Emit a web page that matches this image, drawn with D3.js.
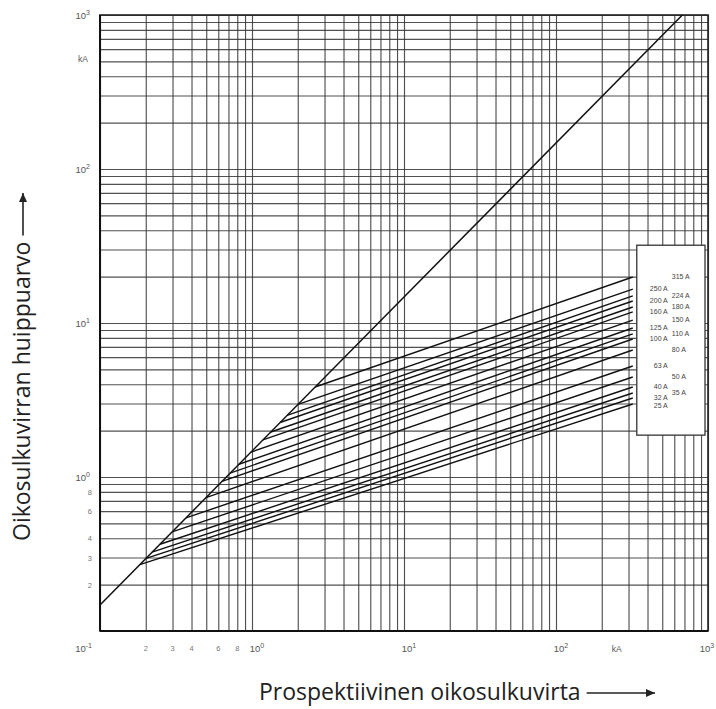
<!DOCTYPE html>
<html><head><meta charset="utf-8">
<script src="https://cdn.jsdelivr.net/npm/d3@7"></script>
<style>body{margin:0;background:#fff}svg{display:block}</style>
</head><body>
<svg id="c" width="716" height="709"></svg>
<script>
// ---- data (kA) ----
const ratings      = ["25 A","32 A","35 A","40 A","50 A","63 A","80 A","100 A","110 A","125 A","150 A","160 A","180 A","200 A","224 A","250 A","315 A"];
const labelSide    = ["L","L","R","L","R","L","R","L","R","L","R","L","R","L","R","L","R"];
const kneeCurrent  = [0.183,0.201,0.220,0.248,0.298,0.368,0.498,0.635,0.717,0.821,0.984,1.18,1.33,1.53,1.70,2.01,2.60];
const kneePeak     = [0.270,0.296,0.325,0.366,0.440,0.543,0.735,0.937,1.06,1.21,1.45,1.74,1.96,2.26,2.51,2.96,3.84];
const endCurrent   = 320;
const endPeak      = [2.98,3.26,3.51,3.84,4.46,5.26,6.68,7.87,8.49,9.28,10.45,11.8,12.7,13.9,15.0,16.6,19.9];
const diagCurrent  = [0.1, 678];
const diagPeak     = [0.1475, 1000];
const decades      = [0.1, 1, 10, 100, 1000];
const decadeExp    = ["-1","0","1","2","3"];
const xMinorVals   = [0.2,0.3,0.4,0.6,0.8];
const xMinorText   = ["2","3","4","6","8"];
const yMinorVals   = [0.8,0.6,0.4,0.3,0.2];
const yMinorText   = ["8","6","4","3","2"];
const xTitle = "Prospektiivinen oikosulkuvirta";
const yTitle = "Oikosulkuvirran huippuarvo";

const svg = d3.select("#c");
const L=100, R=708, T=15, B=631;
const x = d3.scaleLog().domain([0.1,1000]).range([L,R]);
const y = d3.scaleLog().domain([0.1,1000]).range([B,T]);

// grid via axes
const gridX = svg.append("g").attr("transform",`translate(0,${B})`)
  .call(d3.axisBottom(x).tickValues(x.ticks()).tickSize(-(B-T)).tickFormat(""));
const gridY = svg.append("g").attr("transform",`translate(${L},0)`)
  .call(d3.axisLeft(y).tickValues(y.ticks()).tickSize(-(R-L)).tickFormat(""));
[gridX,gridY].forEach(g=>{
  g.select(".domain").remove();
  g.selectAll("line").attr("stroke","#333").attr("stroke-width",1.15).attr("stroke-opacity",0.85);
});

// frame
svg.append("rect").attr("x",L).attr("y",T).attr("width",R-L).attr("height",B-T)
  .attr("fill","none").attr("stroke","#222").attr("stroke-width",1.6);
svg.append("line").attr("x1",L).attr("x2",R).attr("y1",B).attr("y2",B).attr("stroke","#111").attr("stroke-width",2.2);
svg.append("line").attr("x1",L).attr("x2",L).attr("y1",T).attr("y2",B).attr("stroke","#111").attr("stroke-width",2);

// curves
const line = d3.line().x(d=>x(d[0])).y(d=>y(d[1]));
const plot = svg.append("g");
plot.append("path").datum(diagCurrent.map((c,i)=>[c,diagPeak[i]]))
  .attr("d",line).attr("fill","none").attr("stroke","#111").attr("stroke-width",1.5);
ratings.forEach((r,i)=>{
  plot.append("path").datum([[kneeCurrent[i],kneePeak[i]],[endCurrent,endPeak[i]]])
    .attr("d",line).attr("fill","none").attr("stroke","#111").attr("stroke-width",1.4);
});

// legend box
const bx = x(endCurrent)+4;
svg.append("rect").attr("x",bx).attr("y",y(32)).attr("width",R-3-bx).attr("height",y(1.87)-y(32))
  .attr("fill","#fff").attr("stroke","#333").attr("stroke-width",1.3);
// label positions: follow curve ends, keep a minimum spacing per column (top to bottom)
const order = d3.range(ratings.length).sort((a,b)=>endPeak[b]-endPeak[a]);
const lastY = {L:-1e9, R:-1e9};
const labY = [];
order.forEach(i=>{
  const s = labelSide[i];
  let yy = Math.max(y(endPeak[i]), lastY[s]+8);
  lastY[s] = yy; labY[i] = yy;
});
ratings.forEach((r,i)=>{
  const left = labelSide[i]==="L";
  svg.append("text").attr("x",left? bx+31 : bx+35).attr("y",labY[i])
    .attr("dominant-baseline","middle").attr("text-anchor",left?"end":"start")
    .attr("font-family","Liberation Sans, Arial, sans-serif").attr("font-size",7)
    .attr("fill","#444").text(r);
});

// tick labels
const tf = "Liberation Sans, Arial, sans-serif";
function pow(g, xx, yy, exp, anchor){
  const t = g.append("text").attr("x",xx).attr("y",yy).attr("font-family",tf)
    .attr("font-size",9.5).attr("fill","#555").attr("text-anchor",anchor);
  t.append("tspan").text("10");
  t.append("tspan").attr("dy",-4).attr("font-size",7).text(exp);
  return t;
}
const lab = svg.append("g");
decades.forEach((v,i)=>{
  if(i===0) pow(lab, x(v)-8, 652, decadeExp[i], "end");
  else pow(lab, x(v)+(i===4?-1:5), 652, decadeExp[i], "middle");
});
lab.append("text").attr("x",x(200)+15).attr("y",652).attr("font-family",tf).attr("font-size",8.5)
  .attr("fill","#555").attr("text-anchor","middle").text("kA");
xMinorVals.forEach((v,i)=>lab.append("text").attr("x",x(v)).attr("y",651).attr("font-family",tf)
  .attr("font-size",7.5).attr("fill","#777").attr("text-anchor","middle").text(xMinorText[i]));
decades.slice(1).forEach((v,i)=>{
  pow(lab, 90, y(v)+4, decadeExp[i+1], "end");
});
lab.append("text").attr("x",88).attr("y",y(520)+3).attr("font-family",tf).attr("font-size",8.5)
  .attr("fill","#555").attr("text-anchor","end").text("kA");
yMinorVals.forEach((v,i)=>lab.append("text").attr("x",92).attr("y",y(v)+3).attr("font-family",tf)
  .attr("font-size",7.5).attr("fill","#777").attr("text-anchor","end").text(yMinorText[i]));

// titles with arrows
const ff = "Open Sans, Noto Sans, sans-serif";
const xt = svg.append("text").attr("x",259).attr("y",700).attr("font-family",ff).attr("font-size",23)
  .attr("fill","#222").text(xTitle);
const xlen = xt.node().getComputedTextLength();
function arrow(x1,y1,x2,y2){
  svg.append("line").attr("x1",x1).attr("y1",y1).attr("x2",x2).attr("y2",y2)
    .attr("stroke","#222").attr("stroke-width",1.6);
  const a = Math.atan2(y2-y1,x2-x1), h=9, w=4;
  const p = [[x2,y2],[x2-h*Math.cos(a)+w*Math.sin(a), y2-h*Math.sin(a)-w*Math.cos(a)],
             [x2-h*Math.cos(a)-w*Math.sin(a), y2-h*Math.sin(a)+w*Math.cos(a)]];
  svg.append("path").attr("d","M"+p.map(q=>q.join(",")).join("L")+"Z").attr("fill","#222");
}
arrow(259+xlen+6, 693, 655, 693);
const yt = svg.append("text").attr("transform","translate(30,541) rotate(-90)")
  .attr("font-family",ff).attr("font-size",23).attr("fill","#222").text(yTitle);
const ylen = yt.node().getComputedTextLength();
arrow(23, 541-ylen-6, 23, 193);
</script>
</body></html>
